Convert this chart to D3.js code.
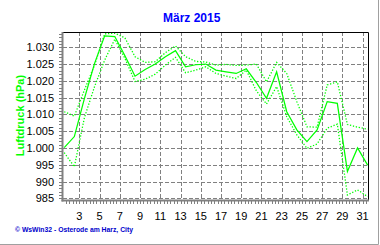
<!DOCTYPE html>
<html><head><meta charset="utf-8">
<script src="https://cdn.jsdelivr.net/npm/d3@7/dist/d3.min.js"></script>
<style>
body{margin:0;background:#fff;}
svg{display:block;font-family:Arial,"Liberation Sans",sans-serif;}
</style>
</head><body>
<svg id="c" width="380" height="245"></svg>
<script>
// ---- data ----
const days = [1,2,3,4,5,6,7,8,9,10,11,12,13,14,15,16,17,18,19,20,21,22,23,24,25,26,27,28,29,30,31];
const meanP = [1000.1,1003.4,1014.8,1025.2,1033.4,1033.2,1027.5,1021.4,1023.4,1025.0,1027.2,1029.0,1024.2,1024.8,1025.0,1023.2,1022.7,1022.2,1023.6,1019.5,1014.8,1022.7,1010.8,1005.4,1001.9,1005.4,1013.8,1013.3,993.0,1000.0,994.9];
const maxP = [1010.8,1009.5,1017.3,1024.7,1034.0,1034.2,1032.8,1027.2,1025.5,1025.7,1028.4,1030.4,1027.2,1025.8,1025.6,1024.7,1024.9,1024.6,1024.7,1025.0,1019.7,1025.5,1022.2,1013.8,1006.3,1006.2,1018.8,1019.7,1007.0,1006.2,1005.6];
const minP = [998.6,994.4,1009.1,1018.3,1026.2,1032.4,1026.7,1019.8,1020.5,1022.0,1024.7,1027.0,1022.4,1023.2,1024.2,1022.2,1021.4,1020.7,1023.2,1017.0,1013.1,1018.3,1009.3,1003.9,999.9,1001.2,1005.9,1007.1,986.0,987.5,985.5];
const yTicks = [985,990,995,1000,1005,1010,1015,1020,1025,1030];
const yLabels = ["985","990","995","1.000","1.005","1.010","1.015","1.020","1.025","1.030"];
const xTicks = [3,5,7,9,11,13,15,17,19,21,23,25,27,29,31];
const xLabels = ["3","5","7","9","11","13","15","17","19","21","23","25","27","29","31"];
const title = "März 2015";
const yTitle = "Luftdruck (hPa)";
const footer = "© WsWin32  -  Osterode am Harz, City";

// ---- layout ----
const L = 63, R = 368, T = 32, B = 200;
const svg = d3.select("#c");
const x = d3.scaleLinear().domain([3, 31]).range([79.4, 362.6]);
const y = d3.scaleLinear().domain([985, 1030]).range([198.3, 47.3]);
const green = "#00ff00", grid = "#808080";

svg.append("rect").attr("width",380).attr("height",245).attr("fill","#fff");

// grid
const g = svg.append("g");
g.selectAll(".hg").data(yTicks).join("line")
  .attr("x1", L).attr("x2", R)
  .attr("y1", d => Math.round(y(d)) + 0.5).attr("y2", d => Math.round(y(d)) + 0.5)
  .attr("stroke", grid).attr("stroke-dasharray", "4,2");
g.selectAll(".vg").data(xTicks).join("line")
  .attr("x1", d => Math.round(x(d)) + 0.5).attr("x2", d => Math.round(x(d)) + 0.5)
  .attr("y1", T).attr("y2", B)
  .attr("stroke", grid).attr("stroke-dasharray", "4,2");

// clip
svg.append("clipPath").attr("id","clip").append("rect")
  .attr("x", L).attr("y", T).attr("width", R - L).attr("height", B - T);

const line = vals => d3.line().x((d, i) => x(days[i] + 0.5)).y(d => y(d))(vals);
const lg = svg.append("g").attr("clip-path", "url(#clip)");
lg.append("path").attr("d", line(maxP)).attr("fill","none").attr("stroke",green)
  .attr("stroke-width",1.3).attr("stroke-dasharray","1.3,1.7");
lg.append("path").attr("d", line(minP)).attr("fill","none").attr("stroke",green)
  .attr("stroke-width",1.3).attr("stroke-dasharray","1.3,1.7");
lg.append("path").attr("d", line(meanP)).attr("fill","none").attr("stroke",green)
  .attr("stroke-width",1.25);

// border top/right
svg.append("path").attr("d", `M${L},${T+0.5}H${R+0.5}V${B}`).attr("fill","none").attr("stroke","#000");

// axes (gray)
svg.append("line").attr("x1", L - 0.5).attr("x2", L - 0.5).attr("y1", T).attr("y2", B + 1.5)
  .attr("stroke", grid).attr("stroke-width", 2);
svg.append("line").attr("x1", L - 1.5).attr("x2", R + 1).attr("y1", B + 0.5).attr("y2", B + 0.5)
  .attr("stroke", grid).attr("stroke-width", 2);

// minor ticks y (each hPa)
const yMinor = d3.range(985, 1035, 1);
svg.append("g").selectAll("line").data(yMinor.filter(v => y(v) >= T && y(v) <= B)).join("line")
  .attr("x1", L - 4).attr("x2", L - 1)
  .attr("y1", d => Math.round(y(d)) + 0.5).attr("y2", d => Math.round(y(d)) + 0.5)
  .attr("stroke", grid);
// minor ticks x (every 8 hours)
const xMinor = d3.range(1, 32.01, 1/3);
svg.append("g").selectAll("line").data(xMinor.filter(v => x(v) >= L && x(v) <= R)).join("line")
  .attr("x1", d => Math.round(x(d)) + 0.5).attr("x2", d => Math.round(x(d)) + 0.5)
  .attr("y1", B + 1).attr("y2", B + 4)
  .attr("stroke", grid);

// y labels
svg.append("g").selectAll("text").data(yTicks).join("text")
  .attr("x", 54).attr("y", d => y(d) + 4)
  .attr("text-anchor", "end").attr("font-size", 11).attr("fill", "#000")
  .text((d, i) => yLabels[i]);
// x labels
svg.append("g").selectAll("text").data(xTicks).join("text")
  .attr("x", d => x(d)).attr("y", 219.5)
  .attr("text-anchor", "middle").attr("font-size", 11).attr("fill", "#000")
  .text((d, i) => xLabels[i]);

// titles
svg.append("text").attr("x", 191.7).attr("y", 22).attr("text-anchor","middle")
  .attr("font-size", 12).attr("font-weight","bold").attr("fill","#0000ff").text(title);
svg.append("text").attr("transform","translate(24,115.5) rotate(-90)").attr("text-anchor","middle")
  .attr("font-size", 11).attr("font-weight","bold").attr("fill", green).text(yTitle);
svg.append("text").attr("x", 15).attr("y", 231.5)
  .attr("font-size", 7).attr("font-weight","bold").attr("fill","#0000cc")
  .attr("textLength", 118).attr("lengthAdjust","spacingAndGlyphs").text(footer);

// outer frame right/bottom
svg.append("path").attr("d","M378.5,0V244.5H0").attr("fill","none").attr("stroke","#a0a0a0");
</script>
</body></html>
